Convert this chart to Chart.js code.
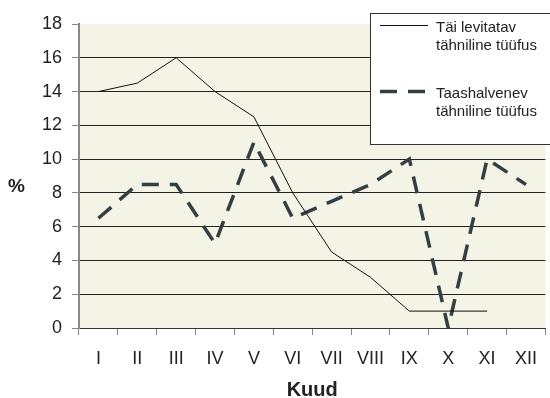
<!DOCTYPE html>
<html>
<head>
<meta charset="utf-8">
<script src="https://cdn.jsdelivr.net/npm/chart.js@4.4.1/dist/chart.umd.min.js"></script>
<style>
html,body{margin:0;padding:0;background:#fff;}
#c{display:block;}
</style>
</head>
<body>
<canvas id="c" width="550" height="398"></canvas>
<script>
const months = ['I','II','III','IV','V','VI','VII','VIII','IX','X','XI','XII'];
const seriesNames = [['Täi levitatav','tähniline tüüfus'],['Taashalvenev','tähniline tüüfus']];
const louseTyphus = [14,14.5,16,14,12.5,8,4.5,3,1,1,1,null];
const brillTyphus = [6.5,8.5,8.5,5,11,6.5,7.5,8.5,10,0,10,8.5];
const yTicks = [0,2,4,6,8,10,12,14,16,18];
const yAxisLabel = '%';
const xAxisLabel = 'Kuud';

const FONT = 'Arial, "Liberation Sans", sans-serif';

const bgPlugin = {
  id: 'bg',
  beforeDraw(chart) {
    const {ctx, chartArea: a} = chart;
    ctx.save();
    ctx.fillStyle = '#f3f3e6';
    ctx.fillRect(a.left, a.top, a.right - a.left, a.bottom - a.top);
    ctx.restore();
  },
  afterDraw(chart) {
    const ctx = chart.ctx;
    ctx.save();
    // y axis label
    ctx.fillStyle = '#222';
    ctx.font = 'bold 19px ' + FONT;
    ctx.textAlign = 'center';
    ctx.textBaseline = 'middle';
    ctx.fillText(yAxisLabel, 16.5, 187);
    // legend box
    ctx.fillStyle = '#fff';
    ctx.fillRect(370, 13, 190, 131);
    ctx.strokeStyle = '#333';
    ctx.lineWidth = 1;
    ctx.strokeRect(370.5, 13.5, 190, 131);
    const ds = chart.data.datasets;
    const rows = [{y: 25, t1: 32, t2: 50}, {y: 91, t1: 98, t2: 116}];
    ds.forEach((d, i) => {
      const r = rows[i];
      ctx.beginPath();
      ctx.strokeStyle = d.borderColor;
      ctx.lineWidth = d.borderWidth;
      ctx.setLineDash(d.borderDash || []);
      ctx.moveTo(380, r.y + 0.5);
      ctx.lineTo(428, r.y + 0.5);
      ctx.stroke();
      ctx.setLineDash([]);
      ctx.fillStyle = '#222';
      ctx.font = '15px ' + FONT;
      ctx.textAlign = 'left';
      ctx.textBaseline = 'alphabetic';
      ctx.fillText(seriesNames[i][0], 436, r.t1);
      ctx.fillText(seriesNames[i][1], 436, r.t2);
    });
    ctx.restore();
  }
};

new Chart(document.getElementById('c'), {
  type: 'line',
  data: {
    labels: months,
    datasets: [
      {
        label: seriesNames[0].join(' '),
        data: louseTyphus,
        borderColor: '#111',
        borderWidth: 1,
        pointRadius: 0,
        tension: 0,
        spanGaps: false
      },
      {
        label: seriesNames[1].join(' '),
        data: brillTyphus,
        borderColor: '#343f41',
        borderWidth: 3.5,
        borderDash: [17, 11],
        pointRadius: 0,
        tension: 0
      }
    ]
  },
  options: {
    responsive: false,
    animation: false,
    layout: {padding: {top: 24, right: 1, left: 0, bottom: 0}},
    plugins: {legend: {display: false}, tooltip: {enabled: false}},
    scales: {
      x: {
        offset: true,
        grid: {drawOnChartArea: false, drawTicks: true, tickLength: 7, tickColor: '#888', offset: true},
        border: {color: '#333', width: 1},
        ticks: {color: '#222', font: {size: 18, family: FONT}, padding: 13, maxRotation: 0, autoSkip: false},
        title: {display: true, text: xAxisLabel, color: '#222', font: {size: 20, weight: 'bold', family: FONT, lineHeight: 0.8}, padding: {top: 0, bottom: 0}},
        afterFit(s) { s.height = 70; }
      },
      y: {
        min: 0, max: 18,
        afterBuildTicks(s) { s.ticks = yTicks.map(v => ({value: v})); },
        grid: {
          color: c => (c.tick && c.tick.value === 18) ? 'rgba(0,0,0,0)' : '#222',
          lineWidth: 1,
          tickLength: 7,
          tickColor: '#888'
        },
        border: {color: '#888', width: 2},
        ticks: {color: '#222', font: {size: 18, family: FONT}, padding: 10},
        afterFit(s) { s.width = 79; }
      }
    }
  },
  plugins: [bgPlugin]
});
</script>
</body>
</html>
